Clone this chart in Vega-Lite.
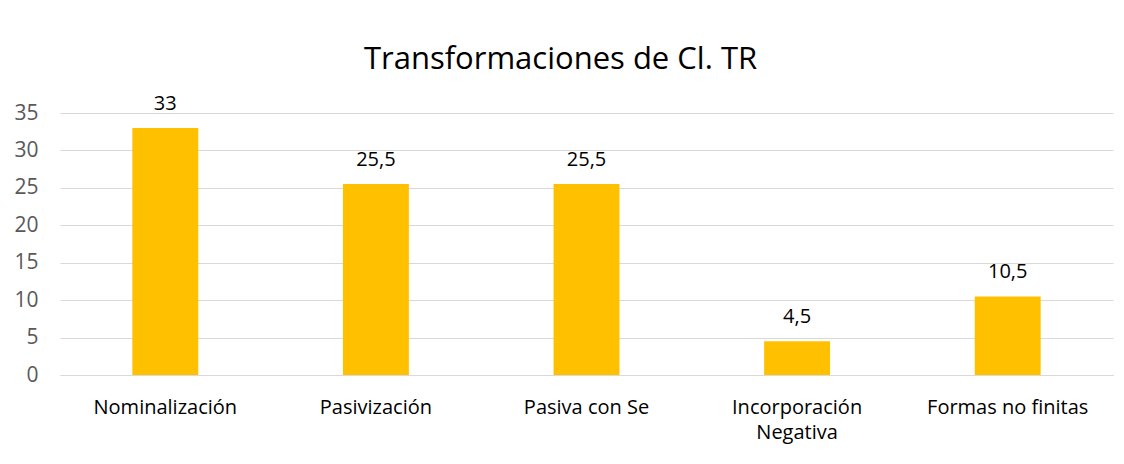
{
  "$schema": "https://vega.github.io/schema/vega-lite/v6.json",
  "width": 1053,
  "height": 262,
  "autosize": {"type": "none"},
  "padding": {"left": 60, "top": 113, "right": 11, "bottom": 89},
  "background": "white",
  "title": {
    "text": "Transformaciones de Cl. TR",
    "anchor": "middle",
    "dx": -26,
    "offset": 18,
    "font": "Open Sans",
    "fontSize": 31,
    "fontWeight": "normal",
    "color": "#000000"
  },
  "config": {
    "locale": {"number": {"decimal": ",", "thousands": ".", "grouping": [3], "currency": ["", " €"]}},
    "view": {"stroke": null},
    "font": "Open Sans"
  },
  "data": {
    "values": [
      {"categoria": "Nominalización", "valor": 33},
      {"categoria": "Pasivización", "valor": 25.5},
      {"categoria": "Pasiva con Se", "valor": 25.5},
      {"categoria": "Incorporación Negativa", "valor": 4.5},
      {"categoria": "Formas no finitas", "valor": 10.5}
    ]
  },
  "encoding": {
    "x": {
      "field": "categoria",
      "type": "nominal",
      "sort": null,
      "scale": {"paddingInner": 0.687, "paddingOuter": 0.3435},
      "axis": {
        "title": null,
        "labelAngle": 0,
        "labelFont": "Open Sans",
        "labelFontSize": 20,
        "labelColor": "#000000",
        "labelPadding": 22,
        "labelLineHeight": 25,
        "labelExpr": "datum.label == 'Incorporación Negativa' ? ['Incorporación', 'Negativa'] : datum.label",
        "ticks": false,
        "domainColor": "#d9d9d9",
        "domainWidth": 1
      }
    },
    "y": {
      "field": "valor",
      "type": "quantitative",
      "scale": {"domain": [0, 35], "nice": false},
      "axis": {
        "title": null,
        "values": [0, 5, 10, 15, 20, 25, 30, 35],
        "labelFont": "Open Sans",
        "labelFontSize": 21,
        "labelColor": "#595959",
        "labelPadding": 22,
        "ticks": false,
        "domain": false,
        "gridColor": "#d9d9d9",
        "gridWidth": 1
      }
    }
  },
  "layer": [
    {"mark": {"type": "bar", "color": "#FFC000"}},
    {
      "mark": {"type": "text", "baseline": "alphabetic", "dy": -18, "font": "Open Sans", "fontSize": 20, "color": "#000000"},
      "encoding": {"text": {"field": "valor", "type": "quantitative", "format": ",.1~f"}}
    }
  ]
}
